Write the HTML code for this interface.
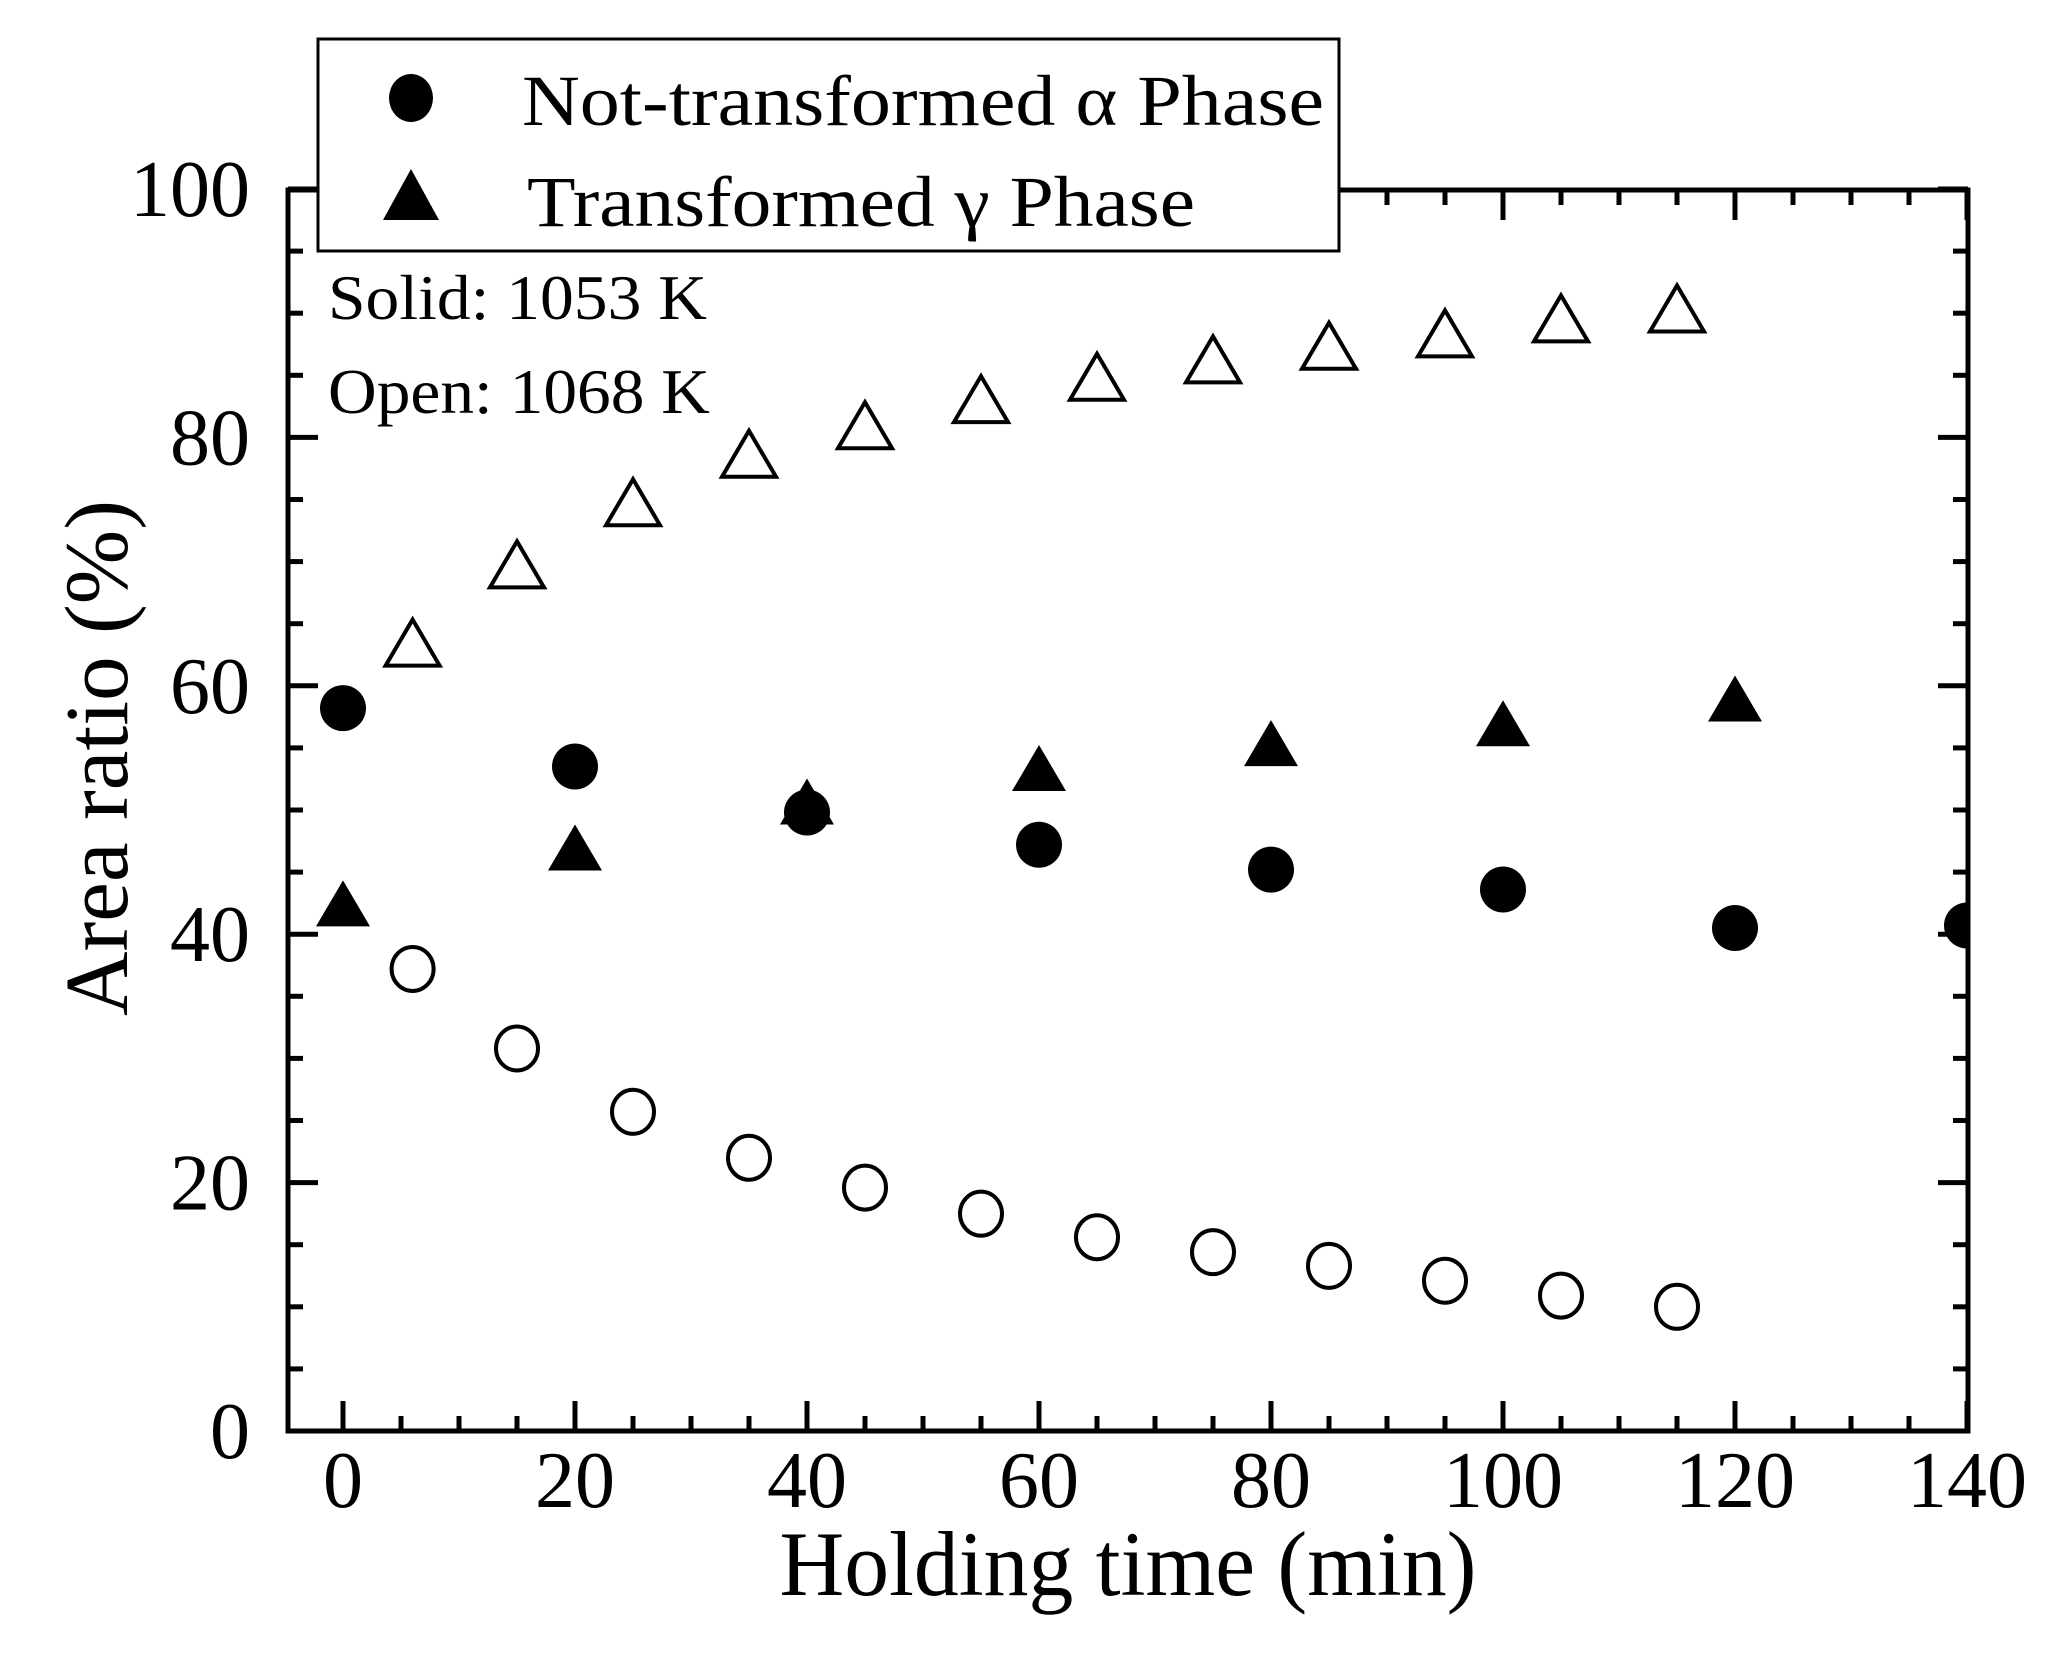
<!DOCTYPE html>
<html><head><meta charset="utf-8"><style>html,body{margin:0;padding:0;background:#fff}svg{display:block}</style></head>
<body>
<svg xmlns="http://www.w3.org/2000/svg" width="2062" height="1653" viewBox="0 0 2062 1653" font-family="'Liberation Serif', serif">
<defs><clipPath id="c"><rect x="288" y="190" width="1680" height="1241"/></clipPath></defs>
<g id="ticks" stroke="#000" stroke-width="5"></g>
<g clip-path="url(#c)" id="data"></g>
<rect x="288" y="190" width="1680" height="1241" fill="none" stroke="#000" stroke-width="5"/>
<g font-size="80" text-anchor="end" id="yl"></g>
<g font-size="80" text-anchor="middle" id="xl"></g>
<text x="1128" y="1595" font-size="92" text-anchor="middle" textLength="697" lengthAdjust="spacingAndGlyphs">Holding time (min)</text>
<text transform="translate(127,758) rotate(-90)" font-size="90" text-anchor="middle" textLength="516" lengthAdjust="spacingAndGlyphs">Area ratio (%)</text>
<text x="328" y="319" font-size="64" textLength="379" lengthAdjust="spacingAndGlyphs">Solid: 1053 K</text>
<text x="328" y="413" font-size="64" textLength="382" lengthAdjust="spacingAndGlyphs">Open: 1068 K</text>
<rect x="318" y="39" width="1021" height="212" fill="#fff" stroke="#000" stroke-width="3"/>
<ellipse cx="411" cy="98" rx="22" ry="24"/>
<polygon points="411,169 383,220 439,220"/>
<text x="522" y="125" font-size="72" textLength="802" lengthAdjust="spacingAndGlyphs">Not-transformed  α  Phase</text>
<text x="527" y="226" font-size="72" textLength="668" lengthAdjust="spacingAndGlyphs">Transformed  γ  Phase</text>
<script>
const X=v=>343+v*11.6, Y=v=>1431-v*12.42, NS="http://www.w3.org/2000/svg";
function el(p,t,a){const e=document.createElementNS(NS,t);for(const k in a)e.setAttribute(k,a[k]);p.appendChild(e);return e;}
const tk=document.getElementById('ticks');
for(let v=0;v<=140;v+=5){const x=X(v),L=v%20==0?30:15;el(tk,'line',{x1:x,y1:1431,x2:x,y2:1431-L});el(tk,'line',{x1:x,y1:190,x2:x,y2:190+L});}
for(let v=0;v<=100;v+=5){const y=Y(v),L=v%20==0?30:15;el(tk,'line',{x1:288,y1:y,x2:288+L,y2:y});el(tk,'line',{x1:1968,y1:y,x2:1968-L,y2:y});}
const yl=document.getElementById('yl');for(let v=0;v<=100;v+=20){const t=el(yl,'text',{x:250,y:Y(v)+27});t.textContent=v;}
const xl=document.getElementById('xl');for(let v=0;v<=140;v+=20){const t=el(xl,'text',{x:X(v),y:1507});t.textContent=v;}
const d=document.getElementById('data');
const ot=[[6,63.4],[15,69.7],[25,74.7],[35,78.6],[45,80.9],[55,83],[65,84.8],[75,86.2],[85,87.3],[95,88.3],[105,89.5],[115,90.3]];
const oc=[[6,37.2],[15,30.8],[25,25.7],[35,22],[45,19.6],[55,17.5],[65,15.6],[75,14.4],[85,13.3],[95,12.1],[105,10.9],[115,10]];
const fc=[[0,58.2],[20,53.5],[40,49.8],[60,47.2],[80,45.2],[100,43.6],[120,40.5],[140,40.7]];
const ft=[[0,42.4],[20,46.9],[40,50.6],[60,53.3],[80,55.3],[100,56.9],[120,58.9]];
const tri=(x,y)=>`${x},${y-24} ${x-27},${y+22} ${x+27},${y+22}`;
ot.forEach(([a,b])=>el(d,'polygon',{points:tri(X(a),Y(b)),fill:'#fff',stroke:'#000','stroke-width':4}));
oc.forEach(([a,b])=>el(d,'ellipse',{cx:X(a),cy:Y(b),rx:21,ry:22,fill:'#fff',stroke:'#000','stroke-width':4}));
fc.forEach(([a,b])=>el(d,'ellipse',{cx:X(a),cy:Y(b),rx:23,ry:23}));
ft.forEach(([a,b])=>el(d,'polygon',{points:tri(X(a),Y(b))}));
</script>
</svg>
</body></html>
